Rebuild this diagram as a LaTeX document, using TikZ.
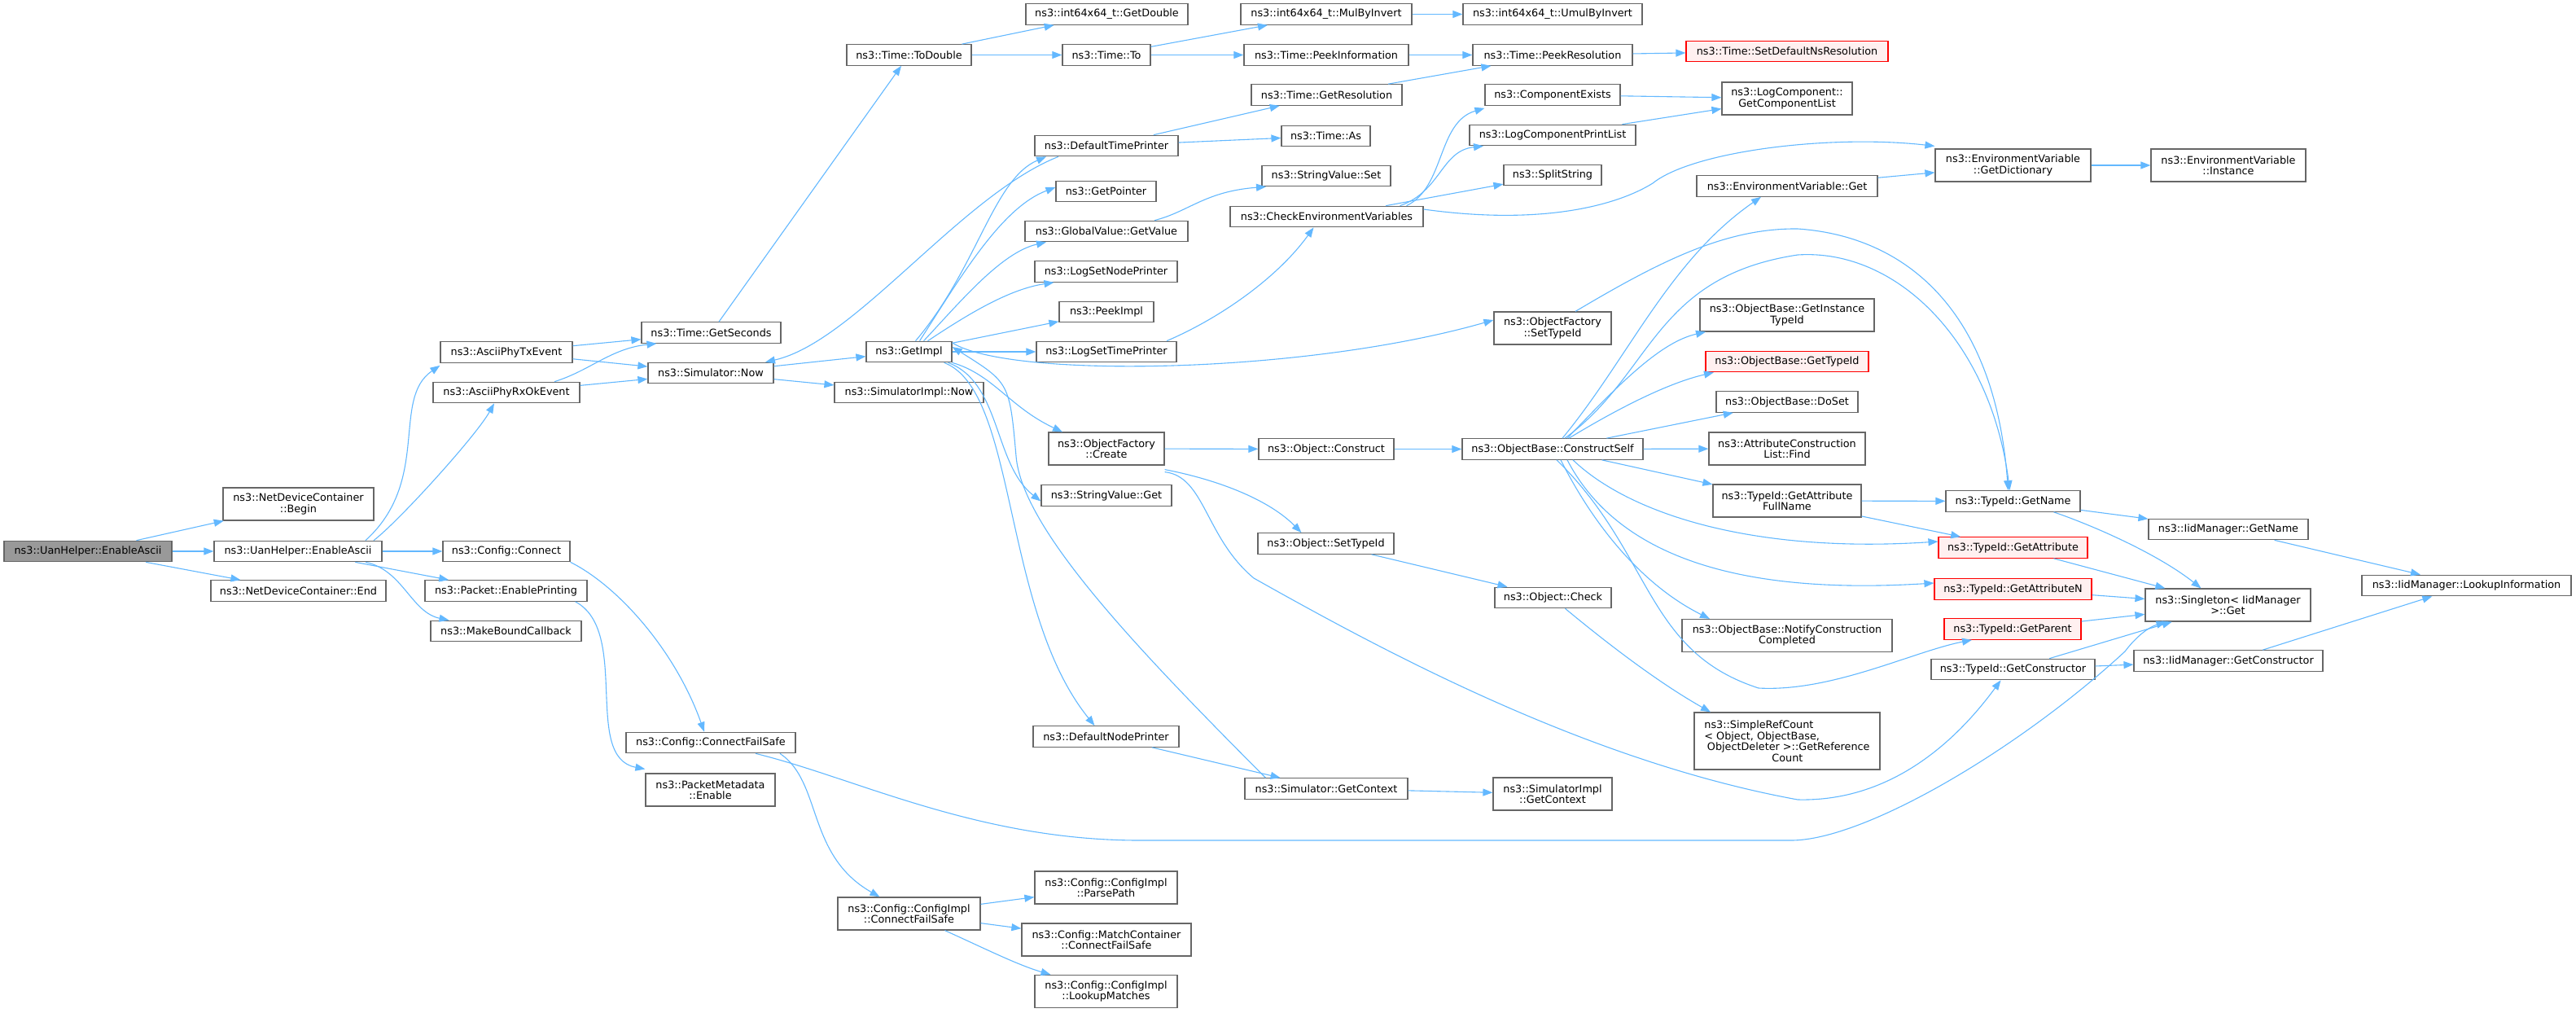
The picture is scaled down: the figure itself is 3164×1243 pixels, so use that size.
\documentclass[tikz,border=0pt]{standalone}
\usepackage{fontspec}
\setmainfont{DejaVu Sans}
\usetikzlibrary{arrows.meta}

\definecolor{edgeblue}{HTML}{63B8FF}
\definecolor{boxgray}{HTML}{666666}
\definecolor{rootgray}{HTML}{999999}
\definecolor{redfill}{HTML}{FFF0F0}

\begin{document}
\begin{tikzpicture}[x=1pt,y=1pt,yscale=-1,xscale=1,
  fn/.style={draw=boxgray, fill=white, line width=1.2pt, inner xsep=4pt, inner ysep=0pt, minimum height=25.5pt, align=center, font=\fontsize{12.8}{13.5}\selectfont},
  fn2/.style={fn, minimum height=40pt},
  rootfn/.style={fn, fill=rootgray},
  redfn/.style={fn, draw=red, fill=redfill},
  call/.style={draw=edgeblue, line width=1.1pt, -{Triangle[length=12pt,width=9pt]}}]

\useasboundingbox (0,0) rectangle (3164,1243);

% Text Node
\node [rootfn, minimum width=206pt] (root) at (108,677) {ns3::UanHelper::EnableAscii};
% Text Node
\node [fn2, minimum width=185pt] (ndcbegin) at (366.5,619) {ns3::NetDeviceContainer\\::Begin};
% Text Node
\node [fn, minimum width=206pt] (uanascii) at (366,677) {ns3::UanHelper::EnableAscii};
% Text Node
\node [fn, minimum width=215pt] (ndcend) at (366.5,725.5) {ns3::NetDeviceContainer::End};
% Text Node
\node [fn, minimum width=162pt] (phytx) at (622,432.5) {ns3::AsciiPhyTxEvent};
% Text Node
\node [fn, minimum width=180pt] (phyrx) at (622,482) {ns3::AsciiPhyRxOkEvent};
% Text Node
\node [fn, minimum width=156pt] (cfgconnect) at (622,677) {ns3::Config::Connect};
% Text Node
\node [fn, minimum width=199pt] (pktprint) at (621.5,725.5) {ns3::Packet::EnablePrinting};
% Text Node
\node [fn, minimum width=185pt] (boundcb) at (621.5,775) {ns3::MakeBoundCallback};
% Text Node
\node [fn, minimum width=171pt] (getseconds) at (873.5,408.5) {ns3::Time::GetSeconds};
% Text Node
\node [fn, minimum width=154pt] (simnow) at (873,458) {ns3::Simulator::Now};
% Text Node
\node [fn, minimum width=208pt] (cfgfailsafe) at (873,912) {ns3::Config::ConnectFailSafe};
% Text Node
\node [fn2, minimum width=159pt] (pktmeta) at (872.5,970) {ns3::PacketMetadata\\::Enable};
% Text Node
\node [fn, minimum width=153pt] (todouble) at (1116.5,67.5) {ns3::Time::ToDouble};
% Text Node
\node [fn, minimum width=105pt] (getimpl) at (1116.5,432) {ns3::GetImpl};
% Text Node
\node [fn, minimum width=183pt] (implnow) at (1116.5,482) {ns3::SimulatorImpl::Now};
% Text Node
\node [fn2, minimum width=175pt] (implfailsafe) at (1116.5,1122) {ns3::Config::ConfigImpl\\::ConnectFailSafe};
% Text Node
\node [fn, minimum width=199pt] (getdouble) at (1359.5,17.5) {ns3::int64x64\_t::GetDouble};
% Text Node
\node [fn, minimum width=108pt] (timeto) at (1359,67.5) {ns3::Time::To};
% Text Node
\node [fn, minimum width=176pt] (timeprinter) at (1359,179) {ns3::DefaultTimePrinter};
% Text Node
\node [fn, minimum width=123pt] (getpointer) at (1358.5,235) {ns3::GetPointer};
% Text Node
\node [fn, minimum width=200pt] (gvgetvalue) at (1359,284) {ns3::GlobalValue::GetValue};
% Text Node
\node [fn, minimum width=175pt] (setnodeprinter) at (1358.5,333.5) {ns3::LogSetNodePrinter};
% Text Node
\node [fn, minimum width=116pt] (peekimpl) at (1359,383) {ns3::PeekImpl};
% Text Node
\node [fn, minimum width=172pt] (settimeprinter) at (1359,432) {ns3::LogSetTimePrinter};
% Text Node
\node [fn2, minimum width=142pt] (ofcreate) at (1359,551) {ns3::ObjectFactory\\::Create};
% Text Node
\node [fn, minimum width=160pt] (svget) at (1359,608.5) {ns3::StringValue::Get};
% Text Node
\node [fn, minimum width=179pt] (nodeprinter) at (1358.5,904.5) {ns3::DefaultNodePrinter};
% Text Node
\node [fn2, minimum width=175pt] (parsepath) at (1358.5,1090) {ns3::Config::ConfigImpl\\::ParsePath};
% Text Node
\node [fn2, minimum width=208pt] (matchfailsafe) at (1359,1154) {ns3::Config::MatchContainer\\::ConnectFailSafe};
% Text Node
\node [fn2, minimum width=175pt] (lookupmatches) at (1358.5,1217.5) {ns3::Config::ConfigImpl\\::LookupMatches};
% Text Node
\node [fn, minimum width=210pt] (mulbyinv) at (1629,17.5) {ns3::int64x64\_t::MulByInvert};
% Text Node
\node [fn, minimum width=202pt] (peekinfo) at (1629,67.5) {ns3::Time::PeekInformation};
% Text Node
\node [fn, minimum width=185pt] (getres) at (1629.5,116.5) {ns3::Time::GetResolution};
% Text Node
\node [fn, minimum width=109pt] (timeas) at (1628.5,167) {ns3::Time::As};
% Text Node
\node [fn, minimum width=158pt] (svset) at (1629,216) {ns3::StringValue::Set};
% Text Node
\node [fn, minimum width=237pt] (checkenv) at (1629.5,266) {ns3::CheckEnvironmentVariables};
% Text Node
\node [fn, minimum width=166pt] (objconstruct) at (1629,551.5) {ns3::Object::Construct};
% Text Node
\node [fn, minimum width=167pt] (objsettid) at (1628.5,667.5) {ns3::Object::SetTypeId};
% Text Node
\node [fn, minimum width=200pt] (simctx) at (1629,968.5) {ns3::Simulator::GetContext};
% Text Node
\node [fn, minimum width=220pt] (umulbyinv) at (1907,17.5) {ns3::int64x64\_t::UmulByInvert};
% Text Node
\node [fn, minimum width=196pt] (peekres) at (1907,67.5) {ns3::Time::PeekResolution};
% Text Node
\node [fn, minimum width=166pt] (compexists) at (1907,116.5) {ns3::ComponentExists};
% Text Node
\node [fn, minimum width=204pt] (printlist) at (1907,166) {ns3::LogComponentPrintList};
% Text Node
\node [fn, minimum width=120pt] (splitstr) at (1907,215) {ns3::SplitString};
% Text Node
\node [fn2, minimum width=144pt] (ofsettid) at (1907,403) {ns3::ObjectFactory\\::SetTypeId};
% Text Node
\node [fn, minimum width=222pt] (constructself) at (1907,551.5) {ns3::ObjectBase::ConstructSelf};
% Text Node
\node [fn, minimum width=143pt] (objcheck) at (1907.5,734) {ns3::Object::Check};
% Text Node
\node [fn2, minimum width=146pt] (implctx) at (1907,975) {ns3::SimulatorImpl\\::GetContext};
% Text Node
\node [redfn, minimum width=248pt] (setdefres) at (2195,63) {ns3::Time::SetDefaultNsResolution};
% Text Node
\node [fn2, minimum width=160pt] (complist) at (2195,121) {ns3::LogComponent::\\GetComponentList};
% Text Node
\node [fn, minimum width=222pt] (envget) at (2195,228.5) {ns3::EnvironmentVariable::Get};
% Text Node
\node [fn2, minimum width=214pt] (insttid) at (2195,387) {ns3::ObjectBase::GetInstance\\TypeId};
% Text Node
\node [redfn, minimum width=200pt] (obgettid) at (2195,444) {ns3::ObjectBase::GetTypeId};
% Text Node
\node [fn, minimum width=174pt] (doset) at (2195,493.5) {ns3::ObjectBase::DoSet};
% Text Node
\node [fn2, minimum width=192pt] (acfind) at (2195,551) {ns3::AttributeConstruction\\List::Find};
% Text Node
\node [fn2, minimum width=182pt] (attrfullname) at (2195,615) {ns3::TypeId::GetAttribute\\FullName};
% Text Node
\node [fn2, minimum width=258pt] (notifydone) at (2195,780.5) {ns3::ObjectBase::NotifyConstruction\\Completed};
% Text Node
\node [fn, minimum width=228pt, minimum height=70pt, align=left] (refcount) at (2195,910) {ns3::SimpleRefCount\\< Object, ObjectBase,\\\hspace*{3.5pt}ObjectDeleter >::GetReference\\\hspace*{83pt}Count};
% Text Node
\node [fn2, minimum width=191pt] (getdict) at (2472.5,203) {ns3::EnvironmentVariable\\::GetDictionary};
% Text Node
\node [fn, minimum width=165pt] (tidname) at (2472.5,615.5) {ns3::TypeId::GetName};
% Text Node
\node [redfn, minimum width=183pt] (tidattr) at (2472.5,672.5) {ns3::TypeId::GetAttribute};
% Text Node
\node [redfn, minimum width=193pt] (tidattrn) at (2472.5,723.5) {ns3::TypeId::GetAttributeN};
% Text Node
\node [redfn, minimum width=168pt] (tidparent) at (2472,772.5) {ns3::TypeId::GetParent};
% Text Node
\node [fn, minimum width=201pt] (tidctor) at (2472.5,822) {ns3::TypeId::GetConstructor};
% Text Node
\node [fn2, minimum width=190pt] (envinst) at (2737,203) {ns3::EnvironmentVariable\\::Instance};
% Text Node
\node [fn, minimum width=196pt] (iidname) at (2737,650) {ns3::IidManager::GetName};
% Text Node
\node [fn2, minimum width=203pt] (singleton) at (2736.5,743) {ns3::Singleton< IidManager\\>::Get};
% Text Node
\node [fn, minimum width=232pt] (iidctor) at (2737,811.5) {ns3::IidManager::GetConstructor};
% Text Node
\node [fn, minimum width=257pt] (lookupinfo) at (3029.5,719) {ns3::IidManager::LookupInformation};

%Straight Lines
\draw [call] (root) -- (ndcbegin);
\draw [call] (root) -- (uanascii);
\draw [call] (root) -- (ndcend);
%Curve Lines
\draw [call] ([xshift=83pt]uanascii.north) .. controls (530,590) and (480,490) .. ([yshift=3pt]phytx.south west);
\draw [call] ([xshift=93pt]uanascii.north) .. controls (490,640) and (585,535) .. ([xshift=-15pt]phyrx.south);
\draw [call] (uanascii) -- (cfgconnect);
\draw [call] (uanascii) -- (pktprint);
\draw [call] ([xshift=83pt]uanascii.south) .. controls (495,700) and (505,752) .. ([xshift=-70pt]boundcb.north);

%Straight Lines
\draw [call] (phytx) -- (getseconds);
\draw [call] (phytx) -- (simnow);
\draw [call] ([xshift=59pt]phyrx.north) .. controls (725,455) and (750,428) .. ([xshift=-67pt]getseconds.south);
\draw [call] (phyrx) -- (simnow);

%Straight Lines
\draw [call] (getseconds) -- (todouble);
\draw [call] (todouble) -- (getdouble);
\draw [call] (todouble) -- (timeto);
\draw [call] (timeto) -- (mulbyinv);
\draw [call] (timeto) -- (peekinfo);
\draw [call] (mulbyinv) -- (umulbyinv);
\draw [call] (peekinfo) -- (peekres);
\draw [call] (getres) -- (peekres);
\draw [call] (peekres) -- (setdefres);
\draw [call] (timeprinter) -- (getres);
\draw [call] (timeprinter) -- (timeas);
\draw [call] ([xshift=-59pt]timeprinter.south) .. controls (1180,240) and (1050,420) .. ([xshift=67pt]simnow.north);
\draw [call] (simnow) -- (getimpl);
\draw [call] (simnow) -- (implnow);

%Curve Lines
\draw [call] ([xshift=8pt]getimpl.north) .. controls (1200,330) and (1220,220) .. ([xshift=-74pt]timeprinter.south);
\draw [call] ([xshift=13pt]getimpl.north) .. controls (1180,340) and (1230,255) .. ([yshift=-5pt]getpointer.west);
\draw [call] ([xshift=18pt]getimpl.north) .. controls (1180,370) and (1230,310) .. ([xshift=-74pt]gvgetvalue.south);
\draw [call] ([xshift=23pt]getimpl.north) .. controls (1190,385) and (1240,355) .. ([xshift=-64pt]setnodeprinter.south);
\draw [call] (getimpl) -- (peekimpl);
\draw [call] (getimpl) -- (settimeprinter);
\draw [call] ([yshift=-11pt]getimpl.east) .. controls (1240,465) and (1600,460) .. ([yshift=-10pt]ofsettid.west);
\draw [call] (getimpl.south east) .. controls (1220,460) and (1240,500) .. ([xshift=-54pt]ofcreate.north);
\draw [call] ([xshift=-5pt]getimpl.south east) .. controls (1230,470) and (1220,570) .. ([yshift=7pt]svget.west);
\draw [call] ([xshift=-10pt]getimpl.south east) .. controls (1250,480) and (1230,750) .. ([xshift=-14pt]nodeprinter.north);
\draw [call] ([xshift=26pt]simctx.north west) .. controls (1400,800) and (1255,650) .. (1248,560) .. controls (1240,470) .. ([yshift=-6pt]getimpl.east);
\draw [call] (nodeprinter) -- (simctx);
\draw [call] ([xshift=59pt]gvgetvalue.north) .. controls (1460,260) and (1480,235) .. ([xshift=-74pt]svset.south);
\draw [call] ([xshift=74pt]settimeprinter.north) .. controls (1500,390) and (1570,340) .. ([xshift=-16pt]checkenv.south);

%Curve Lines
\draw [call] ([xshift=98pt]checkenv.north) .. controls (1775,230) and (1765,150) .. ([yshift=3pt]compexists.south west);
\draw [call] ([xshift=90pt]checkenv.north) .. controls (1770,235) and (1770,185) .. ([xshift=-85pt]printlist.south);
\draw [call] (checkenv) -- (splitstr);
\draw [call] ([yshift=-9pt]checkenv.east) .. controls (1900,278) and (1990,250) .. (2030,225) .. controls (2080,185) and (2250,165) .. ([yshift=-3pt]getdict.north west);
\draw [call] (compexists) -- (complist);
\draw [call] (printlist) -- (complist);
\draw [call] (envget) -- (getdict);
\draw [call] (getdict) -- (envinst);

%Curve Lines
\draw [call] ([xshift=28pt]ofsettid.north) .. controls (2040,320) and (2120,280) .. (2208,281) .. controls (2340,290) and (2450,380) .. ([xshift=-6pt]tidname.north);
\draw [call] ([xshift=15pt]constructself.north) .. controls (2030,460) and (2030,340) .. (2208,313) .. controls (2330,305) and (2445,420) .. ([xshift=-4pt]tidname.north);
\draw [call] (ofcreate) -- (objconstruct);
\draw [call] ([yshift=5pt]ofcreate.south east) .. controls (1500,590) and (1560,615) .. ([xshift=-30pt]objsettid.north);
\draw [call] ([yshift=8pt]ofcreate.south east) .. controls (1480,585) and (1480,660) .. (1540,710) .. controls (1700,800) and (1950,935) .. (2208,982) .. controls (2330,985) and (2410,900) .. ([xshift=-15pt]tidctor.south);
\draw [call] (objconstruct) -- (constructself);
\draw [call] (objsettid) -- (objcheck);
\draw [call] ([xshift=15pt]objcheck.south) .. controls (1980,795) and (2040,840) .. ([xshift=-94pt]refcount.north);
\draw [call] (simctx) -- (implctx);

%Curve Lines
\draw [call] ([xshift=12pt]constructself.north) .. controls (2000,440) and (2050,320) .. ([xshift=-32pt]envget.south);
\draw [call] ([xshift=18pt]constructself.north) .. controls (1990,470) and (2040,420) .. ([xshift=-100pt]insttid.south);
\draw [call] ([xshift=20pt]constructself.north) .. controls (1990,500) and (2050,470) .. ([xshift=-90pt]obgettid.south);
\draw [call] (constructself) -- (doset);
\draw [call] (constructself) -- (acfind);
\draw [call] (constructself) -- (attrfullname);
\draw [call] ([xshift=10pt]constructself.south) .. controls (1960,650) and (2020,720) .. ([xshift=-95pt]notifydone.north);
\draw [call] ([xshift=25pt]constructself.south) .. controls (2000,630) and (2150,680) .. ([yshift=-7.5pt]tidattr.west);
\draw [call] ([xshift=18pt]constructself.south) .. controls (1990,690) and (2150,730) .. ([yshift=-7.5pt]tidattrn.west);
\draw [call] ([xshift=5pt]constructself.south) .. controls (2030,680) and (2020,800) .. (2160,845) .. controls (2250,850) and (2350,800) .. ([xshift=-50pt]tidparent.south);

%Straight Lines
\draw [call] (attrfullname) -- (tidname);
\draw [call] (attrfullname) -- (tidattr);
\draw [call] (tidname) -- (iidname);
\draw [call] ([xshift=50pt]tidname.south) .. controls (2570,645) and (2650,680) .. ([xshift=-33pt]singleton.north);
\draw [call] (tidattr) -- (singleton);
\draw [call] (tidattrn) -- (singleton);
\draw [call] (tidparent) -- (singleton);
\draw [call] (tidctor) -- (singleton);
\draw [call] (tidctor) -- (iidctor);
\draw [call] (iidname) -- (lookupinfo);
\draw [call] (iidctor) -- (lookupinfo);

%Curve Lines
\draw [call] (cfgconnect.south east) .. controls (760,720) and (830,800) .. ([xshift=-8pt]cfgfailsafe.north);
\draw [call] ([xshift=-15pt]pktprint.south east) .. controls (775,775) and (715,930) .. ([yshift=-5pt]pktmeta.north west);
\draw [call] ([xshift=85pt]cfgfailsafe.south) .. controls (1010,960) and (990,1050) .. ([xshift=-36pt]implfailsafe.north);
\draw [call] ([xshift=55pt]cfgfailsafe.south) .. controls (1050,955) and (1200,1032) .. (1400,1032) -- (2200,1032) .. controls (2290,1032) and (2480,920) .. (2610,800) .. controls (2625,780) and (2640,770) .. ([xshift=-76pt]singleton.south);
\draw [call] (implfailsafe) -- (parsepath);
\draw [call] (implfailsafe) -- (matchfailsafe);
\draw [call] ([xshift=44pt]implfailsafe.south) .. controls (1210,1165) and (1250,1185) .. ([xshift=-68pt]lookupmatches.north);

\end{tikzpicture}
\end{document}
